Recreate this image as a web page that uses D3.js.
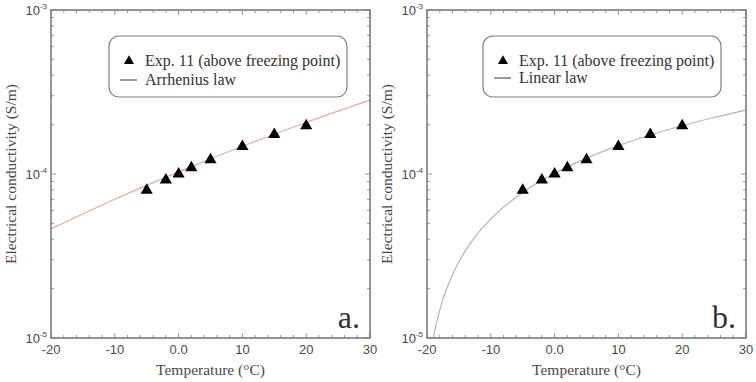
<!DOCTYPE html>
<html><head><meta charset="utf-8">
<script src="https://cdn.jsdelivr.net/npm/d3@7/dist/d3.min.js"></script>
<style>body{margin:0;background:#fff}svg{display:block}
.serif{font-family:'Liberation Serif','Times New Roman',serif}
.sans{font-family:'Liberation Sans',Arial,sans-serif}</style>
</head><body><svg id="c" width="756" height="382"></svg>
<script>
const expTemps = [-5, -2, 0, 2, 5, 10, 15, 20];
const expCond = [7.95e-5, 9.2e-5, 1.0e-4, 1.09e-4, 1.22e-4, 1.47e-4, 1.74e-4, 1.97e-4];
// Arrhenius law curve
const arrTemps = [-20, -10, 0, 10, 20, 30];
const arrCond = [4.62e-5, 7.01e-5, 1.031e-4, 1.476e-4, 2.062e-4, 2.819e-4];
// Linear law curve
const linTemps = [-19, -18.5, -18, -17, -16, -15, -13, -10, -5, 0, 5, 10, 15, 20, 25, 30];
const linCond = [1.0e-5, 1.24e-5, 1.48e-5, 1.96e-5, 2.44e-5, 2.92e-5, 3.88e-5, 5.32e-5, 7.72e-5, 1.01e-4, 1.25e-4, 1.49e-4, 1.73e-4, 1.97e-4, 2.21e-4, 2.45e-4];
const xTicks = [-20, -10, 0, 10, 20, 30];
const xTickLabels = ["-20", "-10", "0.0", "10", "20", "30"];
const yTicks = [1e-5, 1e-4, 1e-3];
const yTickExp = ["-5", "-4", "-3"];

const svg = d3.select("#c");
const panels = [
  {x0: 51, x1: 370, temps: arrTemps, cond: arrCond, color: "#e2a8a8", legend: "Arrhenius law", tag: "a.", box: [109, 347]},
  {x0: 427, x1: 746, temps: linTemps, cond: linCond, color: "#b4b4b4", legend: "Linear law", tag: "b.", box: [483, 721]}
];
const yTop = 10, yBot = 338;
const frameCol = "#7a7a7a", textCol = "#4a4a4a";

panels.forEach((p, i) => {
  const g = svg.append("g");
  const x = d3.scaleLinear().domain([-20, 30]).range([p.x0, p.x1]);
  const y = d3.scaleLog().domain([1e-5, 1e-3]).range([yBot, yTop]);
  const clipId = "clip" + i;
  svg.append("clipPath").attr("id", clipId).append("rect")
    .attr("x", p.x0).attr("y", yTop).attr("width", p.x1 - p.x0).attr("height", yBot - yTop);

  // ticks (inward on all sides)
  const minorX = d3.range(-20, 30.01, 2);
  const minorY = [];
  for (let e = -5; e < -3; e++) for (let m = 2; m < 10; m++) minorY.push(m * Math.pow(10, e));
  const tk = g.append("g").attr("stroke", "#9a9a9a").attr("stroke-width", 1);
  minorX.forEach(v => {
    const len = (v % 10 === 0) ? 5 : 3;
    tk.append("line").attr("x1", x(v)).attr("x2", x(v)).attr("y1", yBot).attr("y2", yBot - len);
    tk.append("line").attr("x1", x(v)).attr("x2", x(v)).attr("y1", yTop).attr("y2", yTop + len);
  });
  minorY.forEach(v => {
    tk.append("line").attr("x1", p.x0).attr("x2", p.x0 + 3).attr("y1", y(v)).attr("y2", y(v));
    tk.append("line").attr("x1", p.x1).attr("x2", p.x1 - 3).attr("y1", y(v)).attr("y2", y(v));
  });
  yTicks.forEach(v => {
    tk.append("line").attr("x1", p.x0).attr("x2", p.x0 + 5).attr("y1", y(v)).attr("y2", y(v));
    tk.append("line").attr("x1", p.x1).attr("x2", p.x1 - 5).attr("y1", y(v)).attr("y2", y(v));
  });

  // curve
  const line = d3.line().x(d => x(d[0])).y(d => y(d[1])).curve(d3.curveMonotoneX);
  g.append("path").datum(p.temps.map((t, k) => [t, p.cond[k]]))
    .attr("d", line).attr("fill", "none").attr("stroke", p.color).attr("stroke-width", 1.2)
    .attr("clip-path", `url(#${clipId})`);

  // points
  const tri = d3.symbol().type(d3.symbolTriangle).size(64);
  g.selectAll("path.pt").data(expTemps).join("path").attr("class", "pt")
    .attr("d", tri).attr("fill", "#000")
    .attr("transform", (d, k) => `translate(${x(d)},${y(expCond[k])})`);

  // frame
  g.append("rect").attr("x", p.x0).attr("y", yTop).attr("width", p.x1 - p.x0).attr("height", yBot - yTop)
    .attr("fill", "none").attr("stroke", frameCol).attr("stroke-width", 1.6);

  // x tick labels
  xTicks.forEach((v, k) => {
    g.append("text").attr("class", "sans").attr("x", x(v)).attr("y", 354).attr("text-anchor", "middle")
      .attr("font-size", 13).attr("fill", textCol)
      .text(xTickLabels[k]);
  });
  // y tick labels
  yTicks.forEach((v, k) => {
    const t = g.append("text").attr("class", "sans").attr("x", p.x0 - 4).attr("y", y(v) + 5).attr("text-anchor", "end")
      .attr("font-size", 13).attr("fill", textCol);
    t.append("tspan").text("10");
    t.append("tspan").attr("dy", -6).attr("font-size", 8).text(yTickExp[k]);
  });

  // axis titles
  g.append("text").attr("class", "serif").attr("x", (p.x0 + p.x1) / 2).attr("y", 375).attr("text-anchor", "middle")
    .attr("font-size", 15.5).attr("fill", textCol)
    .text("Temperature (°C)");
  g.append("text").attr("class", "serif").attr("transform", `translate(${p.x0 - 35},${(yTop + yBot) / 2}) rotate(-90)`)
    .attr("text-anchor", "middle")
    .attr("font-size", 15.5).attr("fill", textCol)
    .text("Electrical conductivity (S/m)");

  // panel tag
  g.append("text").attr("class", "serif").attr("x", p.x1 - 10).attr("y", 328).attr("text-anchor", "end")
    .attr("font-size", 32).attr("fill", "#333")
    .text(p.tag);

  // legend
  const lg = g.append("g");
  lg.append("rect").attr("x", p.box[0]).attr("y", 36).attr("width", p.box[1] - p.box[0]).attr("height", 61)
    .attr("rx", 10).attr("fill", "#fff").attr("stroke", "#808080").attr("stroke-width", 1.2);
  lg.append("path").attr("d", d3.symbol().type(d3.symbolTriangle).size(44))
    .attr("transform", `translate(${p.box[0] + 20},${61})`).attr("fill", "#000");
  lg.append("text").attr("class", "serif").attr("x", p.box[0] + 36).attr("y", 66)
    .attr("font-size", 16).attr("fill", "#333")
    .text("Exp. 11 (above freezing point)");
  const ly = i === 0 ? 80 : 78;
  lg.append("line").attr("x1", p.box[0] + 11).attr("x2", p.box[0] + 28).attr("y1", ly).attr("y2", ly)
    .attr("stroke", "#333").attr("stroke-width", 1);
  lg.append("text").attr("class", "serif").attr("x", p.box[0] + 36).attr("y", ly + 5)
    .attr("font-size", 16).attr("fill", "#333")
    .text(p.legend);
});
</script></body></html>
